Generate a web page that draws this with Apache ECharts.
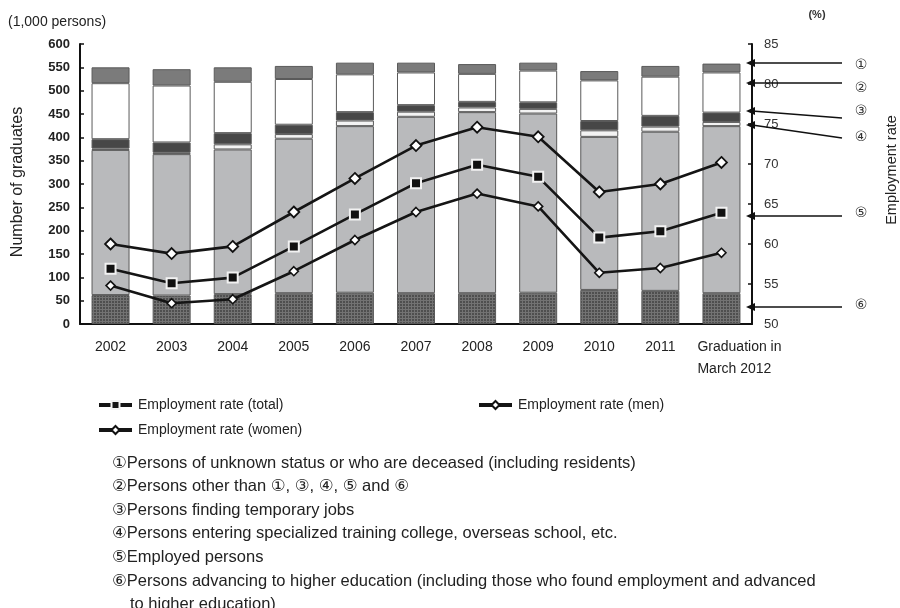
<!DOCTYPE html>
<html>
<head>
<meta charset="utf-8">
<script src="https://cdn.jsdelivr.net/npm/echarts@6/dist/echarts.min.js"></script>
<style>
  html, body { margin: 0; padding: 0; background: #fff; }
  #chart { width: 900px; height: 608px; }
</style>
</head>
<body>
<div id="chart"></div>
<script>
// Graduation years (category axis)
const categories = ['2002', '2003', '2004', '2005', '2006', '2007', '2008', '2009', '2010', '2011', 'Graduation in\nMarch 2012'];

// Number of graduates by status, thousands of persons (stacked bottom to top)
const higherEducation = [62, 61, 64, 66, 67, 66, 66, 67, 73, 71, 66];        // ⑥
const employed        = [311, 303, 310, 331, 357, 378, 388, 384, 328, 341, 358]; // ⑤
const specialized     = [3, 3, 11, 10, 12, 11, 10, 10, 14, 11, 9];          // ④
const temporaryJobs   = [20, 22, 24, 20, 18, 14, 12, 14, 20, 23, 20];       // ③
const otherPersons    = [120, 122, 110, 98, 81, 70, 60, 68, 87, 84, 86];    // ②
const unknownStatus   = [34, 35, 31, 28, 25, 21, 21, 17, 20, 23, 19];       // ①

// Employment rates, %
const rateTotal = [56.9, 55.1, 55.8, 59.7, 63.7, 67.6, 69.9, 68.4, 60.8, 61.6, 63.9];
const rateMen   = [54.8, 52.6, 53.1, 56.6, 60.5, 64.0, 66.3, 64.7, 56.4, 57.0, 58.9];
const rateWomen = [60.0, 58.8, 59.7, 64.0, 68.2, 72.3, 74.6, 73.4, 66.5, 67.5, 70.2];

// Axis tick settings
const leftAxisMin = 0, leftAxisMax = 600, leftAxisStep = 50;
const rightAxisMin = 50, rightAxisMax = 85, rightAxisStep = 5;

// Footnotes and side markers
const notes = [
  '\u2460Persons of unknown status or who are deceased (including residents)',
  '\u2461Persons other than \u2460, \u2462, \u2463, \u2464 and \u2465',
  '\u2462Persons finding temporary jobs',
  '\u2463Persons entering specialized training college, overseas school, etc.',
  '\u2464Employed persons',
  '\u2465Persons advancing to higher education (including those who found employment and advanced',
  'to higher education)'
];
const markerLabels = ['\u2460', '\u2461', '\u2462', '\u2463', '\u2464', '\u2465'];

const FONT = '"Liberation Sans", Arial, "DejaVu Sans", sans-serif';

// cross-hatch fill for the bottom segment
const hatch = document.createElement('canvas');
hatch.width = 3; hatch.height = 3;
const hctx = hatch.getContext('2d');
hctx.fillStyle = '#4f4f4f';
hctx.fillRect(0, 0, 3, 3);
hctx.fillStyle = '#737373';
hctx.fillRect(0, 0, 3, 1);
hctx.fillRect(0, 0, 1, 3);

const chart = echarts.init(document.getElementById('chart'), null, { renderer: 'canvas' });

function barSeries(name, data, fill) {
  return {
    name: name,
    type: 'bar',
    stack: 'graduates',
    yAxisIndex: 0,
    barWidth: 38,
    data: data,
    itemStyle: { color: fill, borderColor: '#5a5a5a', borderWidth: 1 },
    emphasis: { disabled: true },
    z: 2
  };
}

function lineSeries(name, data, symbol, size, fill, border, bw) {
  return {
    name: name,
    type: 'line',
    yAxisIndex: 1,
    data: data,
    symbol: symbol,
    symbolSize: size,
    showAllSymbol: true,
    lineStyle: { color: '#151515', width: 2.6 },
    itemStyle: { color: fill, borderColor: border, borderWidth: bw },
    emphasis: { disabled: true },
    z: 5
  };
}

// the last category sits left-aligned under its bar
const axisCategories = categories.map(function (c, i) {
  return i === categories.length - 1
    ? { value: c, textStyle: { align: 'left', padding: [0, 0, 0, -24] } }
    : c;
});

// side annotation arrows: [y at axis, y at label end, label y]
const markerPos = [[63, 63, 65], [83, 83, 88], [111, 118, 111], [125, 138, 137], [216, 216, 213], [307, 307, 305]];
const graphics = [];
markerPos.forEach(function (p, i) {
  const tipX = 746, endX = 842;
  graphics.push({
    type: 'line', silent: true, z: 10,
    shape: { x1: tipX + 6, y1: p[0], x2: endX, y2: p[1] },
    style: { stroke: '#111', lineWidth: 1.4 }
  });
  graphics.push({
    type: 'polygon', silent: true, z: 10,
    shape: { points: [[tipX, p[0]], [tipX + 9, p[0] - 4], [tipX + 9, p[0] + 4]] },
    style: { fill: '#111' }
  });
  graphics.push({
    type: 'text', silent: true, z: 10,
    x: 861, y: p[2],
    style: { text: markerLabels[i], font: '14px "DejaVu Sans", sans-serif', fill: '#333', align: 'center', verticalAlign: 'middle' }
  });
});

notes.forEach(function (t, i) {
  graphics.push({
    type: 'text', silent: true,
    x: i === notes.length - 1 ? 130 : 112, y: 463 + i * 23.6,
    style: { text: t, font: '16.5px ' + FONT, fill: '#222', verticalAlign: 'middle' }
  });
});

graphics.push({
  type: 'text', silent: true, x: 8, y: 22,
  style: { text: '(1,000 persons)', font: '14px ' + FONT, fill: '#222', verticalAlign: 'middle' }
});
graphics.push({
  type: 'text', silent: true, x: 817, y: 15,
  style: { text: '(%)', font: 'bold 11px ' + FONT, fill: '#333', align: 'center', verticalAlign: 'middle' }
});
graphics.push({
  type: 'text', silent: true, x: 18, y: 182, rotation: Math.PI / 2,
  style: { text: 'Number of graduates', font: '16px ' + FONT, fill: '#222', align: 'center', verticalAlign: 'middle' }
});
graphics.push({
  type: 'text', silent: true, x: 892, y: 170, rotation: Math.PI / 2,
  style: { text: 'Employment rate', font: '14.5px ' + FONT, fill: '#222', align: 'center', verticalAlign: 'middle' }
});

function legendAt(name, left, top) {
  return {
    data: [name],
    left: left, top: top,
    itemWidth: 33, itemHeight: 10, itemGap: 0,
    selectedMode: false,
    lineStyle: { width: 4, color: '#151515' },
    textStyle: { fontFamily: FONT, fontSize: 14, color: '#222', padding: [0, 0, 0, 1] }
  };
}

chart.setOption({
  animation: false,
  backgroundColor: '#fff',
  textStyle: { fontFamily: FONT },
  grid: { left: 80, right: 148, top: 44, bottom: 284, containLabel: false },
  legend: [
    legendAt('Employment rate (total)', 92, 393),
    legendAt('Employment rate (men)', 472, 393),
    legendAt('Employment rate (women)', 92, 418)
  ],
  xAxis: {
    type: 'category',
    data: axisCategories,
    boundaryGap: true,
    axisLine: { lineStyle: { color: '#111', width: 2 } },
    axisTick: { inside: true, length: 5, lineStyle: { color: '#111', width: 1.5 } },
    axisLabel: { color: '#222', fontSize: 14, margin: 12, lineHeight: 22, interval: 0 }
  },
  yAxis: [
    {
      type: 'value',
      min: leftAxisMin, max: leftAxisMax, interval: leftAxisStep,
      axisLine: { show: true, lineStyle: { color: '#111', width: 2 } },
      axisTick: { show: true, inside: true, length: 4, lineStyle: { color: '#111', width: 1.5 } },
      axisLabel: { color: '#222', fontSize: 13, fontWeight: 'bold', margin: 10 },
      splitLine: { show: false }
    },
    {
      type: 'value',
      position: 'right',
      min: rightAxisMin, max: rightAxisMax, interval: rightAxisStep,
      axisLine: { show: true, lineStyle: { color: '#111', width: 2 } },
      axisTick: { show: true, inside: true, length: 4, lineStyle: { color: '#111', width: 1.5 } },
      axisLabel: { color: '#333', fontSize: 13, margin: 12 },
      splitLine: { show: false }
    }
  ],
  series: [
    barSeries('\u2465', higherEducation, { image: hatch, repeat: 'repeat' }),
    barSeries('\u2464', employed, '#b9babc'),
    barSeries('\u2463', specialized, '#f3f3f3'),
    barSeries('\u2462', temporaryJobs, '#474747'),
    barSeries('\u2461', otherPersons, '#ffffff'),
    barSeries('\u2460', unknownStatus, '#7b7b7b'),
    lineSeries('Employment rate (total)', rateTotal, 'rect', 10, '#111', '#f2f2f2', 2),
    lineSeries('Employment rate (men)', rateMen, 'diamond', 9, '#fff', '#111', 1.6),
    lineSeries('Employment rate (women)', rateWomen, 'diamond', 11, '#fff', '#111', 1.8)
  ],
  graphic: graphics
});
</script>
</body>
</html>
